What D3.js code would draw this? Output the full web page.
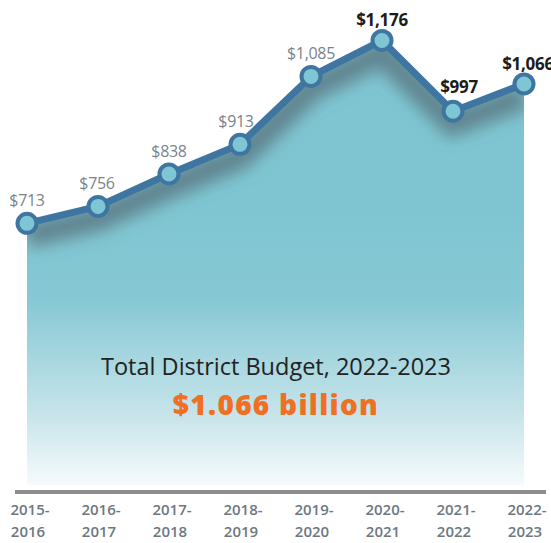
<!DOCTYPE html>
<html>
<head>
<meta charset="utf-8">
<script src="https://cdn.jsdelivr.net/npm/d3@7"></script>
<style>
  body { margin: 0; background: #fff; }
  text { font-family: "Open Sans", "Noto Sans", sans-serif; }
</style>
</head>
<body>
<div id="chart"></div>
<script>
var width = 551;
var height = 543;

// data
var years = ['2015-2016', '2016-2017', '2017-2018', '2018-2019', '2019-2020', '2020-2021', '2021-2022', '2022-2023'];
var budget = [713, 756, 838, 913, 1085, 1176, 997, 1066];
var titleText = 'Total District Budget, 2022-2023';
var totalText = '$1.066 billion';

var svg = d3.select('#chart')
    .append('svg')
    .attr('width', width)
    .attr('height', height);

var x = d3.scalePoint()
    .domain(years)
    .range([27, 524]);

var y = d3.scaleLinear()
    .domain([0, 1200])
    .range([505, 31]);

var baseY = 485;

var defs = svg.append('defs');

var grad = defs.append('linearGradient')
    .attr('id', 'fillGrad')
    .attr('gradientUnits', 'userSpaceOnUse')
    .attr('x1', 0).attr('y1', 200)
    .attr('x2', 0).attr('y2', baseY);
grad.append('stop').attr('offset', '0%').attr('stop-color', '#7ec5d1');
grad.append('stop').attr('offset', '35%').attr('stop-color', '#86c8d4');
grad.append('stop').attr('offset', '75%').attr('stop-color', '#c6e4ea');
grad.append('stop').attr('offset', '100%').attr('stop-color', '#f6fbfc');

var blur = defs.append('filter')
    .attr('id', 'blur')
    .attr('x', '-20%').attr('y', '-50%')
    .attr('width', '140%').attr('height', '200%');
blur.append('feGaussianBlur').attr('stdDeviation', 8);

var area = d3.area()
    .x(function(d, i){ return x(years[i]); })
    .y0(baseY)
    .y1(function(d){ return y(d); });

var line = d3.line()
    .x(function(d, i){ return x(years[i]); })
    .y(function(d){ return y(d); });

defs.append('clipPath')
    .attr('id', 'areaClip')
    .append('path')
    .attr('d', area(budget));

// filled area
svg.append('path')
    .attr('d', area(budget))
    .attr('fill', 'url(#fillGrad)');

// dark shadow under the line
svg.append('g')
    .attr('clip-path', 'url(#areaClip)')
    .append('path')
    .attr('d', line(budget))
    .attr('transform', 'translate(0,12)')
    .attr('fill', 'none')
    .attr('stroke', '#55707b')
    .attr('stroke-width', 26)
    .attr('stroke-opacity', 0.75)
    .attr('filter', 'url(#blur)');

// axis line
svg.append('line')
    .attr('x1', 15).attr('x2', 546)
    .attr('y1', 492).attr('y2', 492)
    .attr('stroke', '#8c8c8c')
    .attr('stroke-width', 4);

// year labels
var tick = svg.selectAll('.tick')
    .data(years)
    .enter()
    .append('text')
    .attr('class', 'tick')
    .attr('text-anchor', 'middle')
    .attr('fill', '#6d7881')
    .attr('font-size', 15)
    .attr('font-weight', 600);
tick.append('tspan')
    .attr('x', function(d){ return x(d) + 3; })
    .attr('y', 515)
    .text(function(d){ return d.slice(0, 5); });
tick.append('tspan')
    .attr('x', function(d){ return x(d) + 1; })
    .attr('y', 537)
    .text(function(d){ return d.slice(5); });

// line and points
svg.append('path')
    .attr('d', line(budget))
    .attr('fill', 'none')
    .attr('stroke', '#3f75a1')
    .attr('stroke-width', 7)
    .attr('stroke-linejoin', 'round');

svg.selectAll('.dot')
    .data(budget)
    .enter()
    .append('circle')
    .attr('class', 'dot')
    .attr('cx', function(d, i){ return x(years[i]); })
    .attr('cy', function(d){ return y(d); })
    .attr('r', 9.5)
    .attr('fill', '#7fc6d4')
    .attr('stroke', '#3f75a1')
    .attr('stroke-width', 4);

// value labels
var labelDx = [0, -1, 0, -4, 0, 0, 6, 4];
var labelDy = [17, 17, 17, 17, 17, 14, 18, 14];
svg.selectAll('.val')
    .data(budget)
    .enter()
    .append('text')
    .attr('class', 'val')
    .attr('x', function(d, i){ return x(years[i]) + labelDx[i]; })
    .attr('y', function(d, i){ return y(d) - labelDy[i]; })
    .attr('text-anchor', 'middle')
    .attr('font-size', function(d, i){ return i >= 5 ? 17 : 16; })
    .attr('letter-spacing', -0.3)
    .attr('font-weight', function(d, i){ return i >= 5 ? 700 : 400; })
    .attr('fill', function(d, i){ return i >= 5 ? '#1c1c1c' : '#7a838b'; })
    .text(function(d){ return '$' + d3.format(',')(d); });

// headline
svg.append('text')
    .attr('x', 276)
    .attr('y', 375)
    .attr('text-anchor', 'middle')
    .attr('font-size', 23.5)
    .attr('fill', '#222')
    .text(titleText);

svg.append('text')
    .attr('x', 276)
    .attr('y', 415)
    .attr('text-anchor', 'middle')
    .attr('font-size', 28)
    .attr('font-weight', 800)
    .attr('letter-spacing', 1.3)
    .attr('fill', '#ef6f23')
    .text(totalText);
</script>
</body>
</html>
